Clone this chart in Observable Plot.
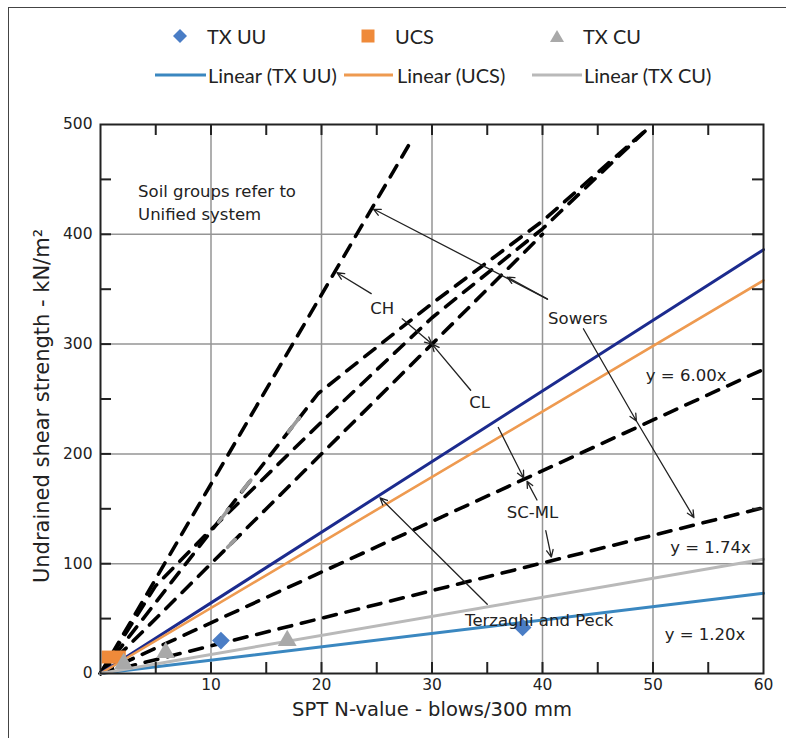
<!DOCTYPE html>
<html><head><meta charset="utf-8">
<script src="https://cdn.jsdelivr.net/npm/d3@7"></script>
<script src="https://cdn.jsdelivr.net/npm/@observablehq/plot@0.6"></script>
<style>
body{margin:0;background:#fff;}
#wrap{position:relative;width:786px;height:738px;overflow:hidden;background:#fff;}
#border{position:absolute;left:8px;top:7px;width:800px;height:800px;border-left:1.5px solid #444;border-top:1.5px solid #444;pointer-events:none;}
#legend{position:absolute;left:0;top:0;width:786px;height:104px;font-family:Lato,"Open Sans",sans-serif;}
.li{position:absolute;font-size:20px;color:#222;transform:translateY(-50%);white-space:nowrap;line-height:1;}
.sw{position:absolute;transform:translate(-50%,-50%);}
#chart{position:absolute;left:0;top:104px;}
</style></head><body>
<div id="wrap"><div id="legend"></div><div id="chart"></div><div id="border"></div></div>
<script>
// ---------- data ----------
const xTicks = [10, 20, 30, 40, 50, 60];
const yTicks = [0, 100, 200, 300, 400, 500];
const xGrid = [10, 20, 30, 40, 50];
const yGrid = [100, 200, 300, 400];
const xMinor = [5, 10, 15, 20, 25, 30, 35, 40, 45, 50, 55];
const yMinor = [50, 100, 150, 200, 250, 300, 350, 400, 450];

// measured points (N, Su)
const txUU = [{n: 10.9, s: 30}, {n: 38.2, s: 42}];
const ucs = [{n: 0.7, s: 15}, {n: 1.7, s: 15}];
const txCU = [{n: 2.1, s: 9}, {n: 5.9, s: 19}, {n: 16.9, s: 30}];

// linear trend lines: value at N = 60
const trendNames = ["Linear (TX UU)", "Linear (UCS)", "Linear (TX CU)", "Terzaghi and Peck"];
const trendAt60 = [73, 358, 104, 386];

// Sowers dashed curves (N, Su)
const curveCH = [[0, 0], [28, 483]];
const curveUpperA = [[0, 0], [19.7, 255], [30, 337], [40, 412], [49.6, 497]];
const curveUpperB = [[0, 0], [5, 80], [9.5, 126], [20.4, 233], [30, 324], [40, 405], [49.6, 497]];
const curveUpperC = [[0, 0], [40, 400]];
const curveSCML1 = [[0, 0], [60, 277]];
const curveSCML2 = [[0, 0], [60, 151]];
const dashedCurves = [curveCH, curveUpperA, curveUpperB, curveUpperC, curveSCML1, curveSCML2];

// grey dashes visible on two of the curves
const greyDashX1 = [10.7, 12.8, 17.0, 11.5];
const greyDashY1 = [138, 166, 220, 115];
const greyDashX2 = [11.6, 13.6, 18.0, 12.2];
const greyDashY2 = [150, 176, 233, 122];

// annotation labels
const sideNote = "Soil groups refer to\nUnified system";
const sideNoteX = 3.4, sideNoteY = 430;
const noteText = ["CH", "CL", "Sowers", "SC-ML", "Terzaghi and Peck", "y = 6.00x", "y = 1.74x", "y = 1.20x"];
const noteX = [25.5, 34.3, 43.2, 39.1, 39.7, 53.0, 55.2, 54.7];
const noteY = [332, 247, 323, 146, 48, 271, 115, 35.5];

// leader arrows (from -> to)
const arrX1 = [40.45, 40.45, 43.7, 48.5, 24.5, 27.3, 33.5, 36.0, 39.5, 40.3, 35.0];
const arrY1 = [341, 341, 314, 230, 346, 323, 258, 224, 158, 130, 63];
const arrX2 = [24.7, 36.8, 48.5, 53.7, 21.4, 30.0, 30.0, 38.3, 38.6, 40.8, 25.3];
const arrY2 = [423, 361, 230, 142, 365, 300, 300, 178, 175, 106, 160];

// ---------- legend ----------
const pointLabels = ["TX UU", "UCS", "TX CU"];
const lineLabels = ["Linear (TX UU)", "Linear (UCS)", "Linear (TX CU)"];
const colUUdot = "#4a7dc5", colUCSdot = "#ef8a3a", colCUdot = "#a9a9a9";
const colUU = "#3a87c0", colUCS = "#ee9a50", colCU = "#b9b9b9", colTP = "#1c2b8e";

const leg = document.getElementById("legend");
function addHTML(html){ leg.insertAdjacentHTML("beforeend", html); }
const row1 = 36, row2 = 75;
const swx = [180, 368, 557];
const txtx1 = [207, 395, 583];
const linex = [[155, 206], [344, 393], [532, 582]];
const txtx2 = [208, 397, 584];
const lineCols = [colUU, colUCS, colCU];
addHTML(`<svg class="sw" style="left:${swx[0]}px;top:${row1}px" width="16" height="16"><path d="M8 1 L15 8 L8 15 L1 8Z" fill="${colUUdot}"/></svg>`);
addHTML(`<svg class="sw" style="left:${swx[1]}px;top:${row1}px" width="14" height="14"><rect x="0.5" y="0.5" width="13" height="13" fill="${colUCSdot}"/></svg>`);
addHTML(`<svg class="sw" style="left:${swx[2]}px;top:${row1}px" width="16" height="14"><path d="M8 1 L15 13 L1 13Z" fill="${colCUdot}"/></svg>`);
pointLabels.forEach((t, i) => addHTML(`<div class="li" style="left:${txtx1[i]}px;top:${row1}px">${t}</div>`));
lineLabels.forEach((t, i) => {
  const [a, b] = linex[i];
  addHTML(`<svg style="position:absolute;left:${a}px;top:${row2 - 2}px" width="${b - a}" height="4"><rect x="0" y="0.5" width="${b - a}" height="3" fill="${lineCols[i]}"/></svg>`);
  addHTML(`<div class="li" style="left:${txtx2[i]}px;top:${row2}px">${t}</div>`);
});

// ---------- chart ----------
const W = 786, H = 634, mL = 100, mR = 23, mT = 20, mB = 65;
const innerW = W - mL - mR, innerH = H - mT - mB;
const trendCols = [colUU, colUCS, colCU, colTP];
const trendW = [3, 2.6, 3, 3];
const trendLines = trendNames.map((name, i) => ({name, pts: [[0, 0], [60, trendAt60[i]]]}));
const idx = arr => arr.map((_, i) => i);

const dashMarks = dashedCurves.map(c => Plot.line(c, {x: d => d[0], y: d => d[1], stroke: "#000", strokeWidth: 3.6, strokeDasharray: "13,10", strokeLinecap: "round"}));
const trendMarks = [3, 1, 0, 2].map(i => Plot.line(trendLines[i].pts, {x: d => d[0], y: d => d[1], stroke: trendCols[i], strokeWidth: trendW[i]}));

const chart = Plot.plot({
  width: W, height: H, marginLeft: mL, marginRight: mR, marginTop: mT, marginBottom: mB,
  x: {domain: [0, 60]},
  y: {domain: [0, 500]},
  style: {fontFamily: "DejaVu Sans", fontSize: "16px", color: "#222", background: "#fff", overflow: "visible"},
  marks: [
    Plot.ruleX(xGrid, {stroke: "#959595", strokeWidth: 1.5}),
    Plot.ruleY(yGrid, {stroke: "#959595", strokeWidth: 1.5}),
    ...dashMarks,
    Plot.link(idx(greyDashX1), {x1: i => greyDashX1[i], y1: i => greyDashY1[i], x2: i => greyDashX2[i], y2: i => greyDashY2[i], stroke: "#9c9c9c", strokeWidth: 3.6, strokeLinecap: "round"}),
    ...trendMarks,
    Plot.dot(ucs, {x: "n", y: "s", symbol: "square", r: 7.3, fill: colUCSdot}),
    Plot.dot(txCU, {x: "n", y: "s", symbol: "triangle", r: 7, fill: colCUdot}),
    Plot.dot(txUU, {x: "n", y: "s", symbol: "diamond2", r: 8, fill: colUUdot}),
    Plot.arrow(idx(arrX1), {x1: i => arrX1[i], y1: i => arrY1[i], x2: i => arrX2[i], y2: i => arrY2[i], stroke: "#222", strokeWidth: 1.3, headLength: 9, headAngle: 50}),
    Plot.text([sideNote], {x: sideNoteX, y: sideNoteY, textAnchor: "start", fontSize: 16.5, lineHeight: 1.4, fill: "#222", fontFamily: "DejaVu Sans"}),
    Plot.text(idx(noteText), {x: i => noteX[i], y: i => noteY[i], text: i => noteText[i], fontSize: 16.5, fill: "#222", fontFamily: "DejaVu Sans"}),
    Plot.frame({stroke: "#222", strokeWidth: 2}),
    Plot.ruleX(xMinor, {insetTop: innerH - 11, stroke: "#222", strokeWidth: 2}),
    Plot.ruleX(xMinor, {insetBottom: innerH - 11, stroke: "#222", strokeWidth: 2}),
    Plot.ruleY(yMinor, {insetRight: innerW - 11, stroke: "#222", strokeWidth: 2}),
    Plot.ruleY(yMinor, {insetLeft: innerW - 11, stroke: "#222", strokeWidth: 2}),
    Plot.axisX(xTicks, {tickSize: 0, tickPadding: 5, label: null, fontSize: 15.5}),
    Plot.axisY(yTicks, {tickSize: 0, tickPadding: 8, label: null, fontSize: 15.5}),
    Plot.text(["SPT N-value - blows/300 mm"], {frameAnchor: "bottom", dy: 42, fontSize: 19.5, fontFamily: "DejaVu Sans", fill: "#222"}),
    Plot.text(["Undrained shear strength - kN/m²"], {frameAnchor: "left", textAnchor: "middle", dx: -58, dy: 7, rotate: -90, fontSize: 21, fontFamily: "DejaVu Sans", fill: "#222"})
  ]
});
document.getElementById("chart").appendChild(chart);
</script></body></html>
